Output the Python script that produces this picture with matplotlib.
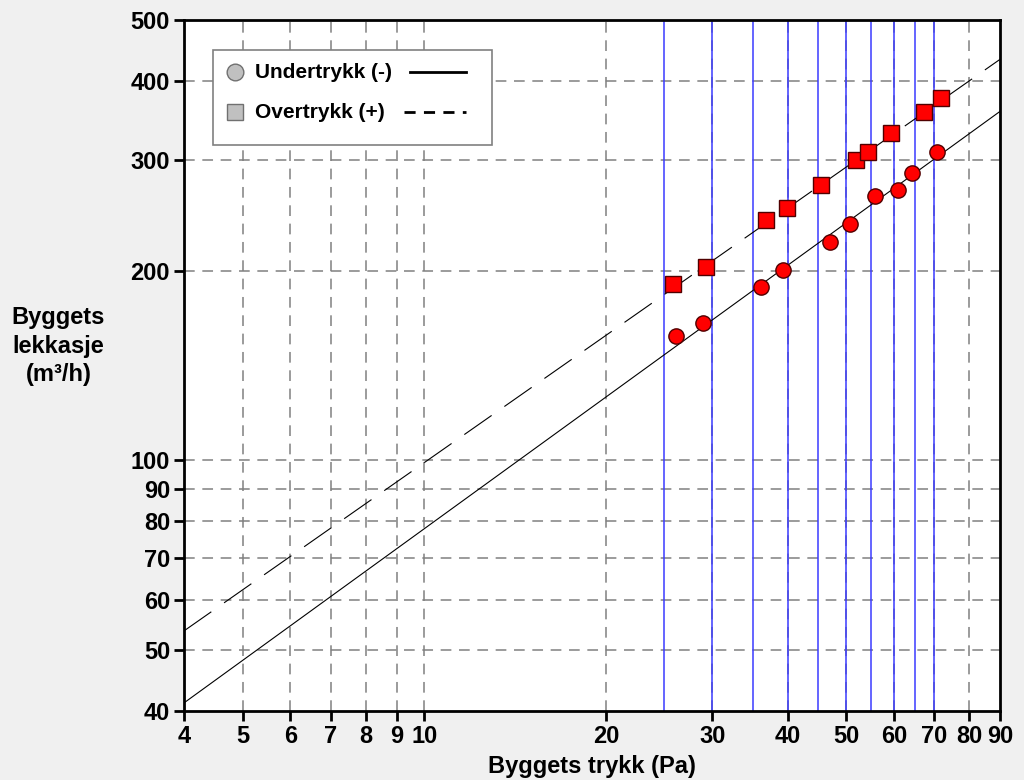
import numpy as np
import matplotlib.pyplot as plt
from matplotlib.patches import Rectangle
from matplotlib.ticker import FixedLocator, NullLocator, FixedFormatter

plt.rcParams['font.family'] = ['Liberation Sans', 'DejaVu Sans']
plt.rcParams['font.weight'] = 'bold'

# data
under_x = [26.1, 29.0, 36.2, 39.3, 47.0, 50.8, 55.8, 61.0, 64.3, 70.8]
under_y = [157.5, 165.2, 188.4, 200.5, 222.0, 237.2, 262.8, 268.6, 285.8, 308.6]
over_x = [25.8, 29.3, 36.9, 39.9, 45.4, 52.0, 54.4, 59.4, 67.3, 71.8]
over_y = [190.5, 202.7, 240.6, 251.4, 273.5, 299.6, 308.6, 330.8, 357.0, 375.9]

# fitted lines (end points)
under_fit_x = [4, 90]
under_fit_y = [41.2, 358.0]
over_fit_x = [4, 90]
over_fit_y = [53.6, 433.0]

blue_x = [25, 30, 35, 40, 45, 50, 55, 60, 65, 70]

xticks = [4, 5, 6, 7, 8, 9, 10, 20, 30, 40, 50, 60, 70, 80, 90]
yticks = [40, 50, 60, 70, 80, 90, 100, 200, 300, 400, 500]

fig = plt.figure(figsize=(10.24, 7.8), dpi=100, facecolor='#f0f0f0')
ax = fig.add_axes([0.1797, 0.0885, 0.797, 0.886])
ax.set_xscale('log')
ax.set_yscale('log')
ax.set_xlim(4, 90)
ax.set_ylim(40, 500)

ax.xaxis.set_major_locator(FixedLocator(xticks))
ax.xaxis.set_minor_locator(NullLocator())
ax.xaxis.set_major_formatter(FixedFormatter([str(v) for v in xticks]))
ax.yaxis.set_major_locator(FixedLocator(yticks))
ax.yaxis.set_minor_locator(NullLocator())
ax.yaxis.set_major_formatter(FixedFormatter([str(v) for v in yticks]))

for v in xticks[1:-1]:
    ax.axvline(v, color='#808080', lw=1.1, ls=(0, (7, 5)), zorder=1)
for v in yticks[1:-1]:
    ax.axhline(v, color='#808080', lw=1.1, ls=(0, (7, 5)), zorder=1)

for v in blue_x:
    ax.axvline(v, color='#3a3aff', lw=1.1, zorder=2)

ax.plot(under_fit_x, under_fit_y, color='black', lw=0.8, zorder=3)
ax.plot(over_fit_x, over_fit_y, color='black', lw=0.8, ls=(0, (30, 14)), zorder=3)

ax.plot(under_x, under_y, 'o', ms=11, mfc='#ff0000', mec='#500000', mew=1, zorder=4)
ax.plot(over_x, over_y, 's', ms=11, mfc='#ff0000', mec='#500000', mew=1, zorder=4)

for s in ax.spines.values():
    s.set_linewidth(2)
ax.tick_params(axis='both', direction='out', length=7, width=2, pad=3)
ax.tick_params(axis='y', labelsize=17)
ax.tick_params(axis='x', labelsize=17)
for lab in ax.get_xticklabels() + ax.get_yticklabels():
    lab.set_fontweight('bold')

ax.set_xlabel('Byggets trykk (Pa)', fontsize=17, fontweight='bold', labelpad=5)
fig.text(0.057, 0.556, 'Byggets\nlekkasje\n(m³/h)', ha='center', va='center',
         fontsize=17, fontweight='bold', linespacing=1.3)

# legend
T = ax.transAxes
ax.add_patch(Rectangle((0.0355, 0.819), 0.342, 0.1376, transform=T,
                       facecolor='white', edgecolor='#808080', lw=1.2, zorder=5))
ax.plot([0.0625], [0.924], 'o', ms=12, mfc='#c0c0c0', mec='#707070', transform=T, zorder=6)
ax.plot([0.0625], [0.866], 's', ms=11, mfc='#c0c0c0', mec='#707070', transform=T, zorder=6)
ax.text(0.0865, 0.924, 'Undertrykk (-)', transform=T, fontsize=15, fontweight='bold',
        va='center', zorder=6)
ax.text(0.0865, 0.866, 'Overtrykk (+)', transform=T, fontsize=15, fontweight='bold',
        va='center', zorder=6)
ax.plot([0.277, 0.345], [0.924, 0.924], color='black', lw=2, transform=T, zorder=6)
ax.plot([0.270, 0.345], [0.866, 0.866], color='black', lw=2, ls=(0, (4, 3)),
        transform=T, zorder=6)

fig.savefig('out.png', dpi=100, facecolor=fig.get_facecolor())
